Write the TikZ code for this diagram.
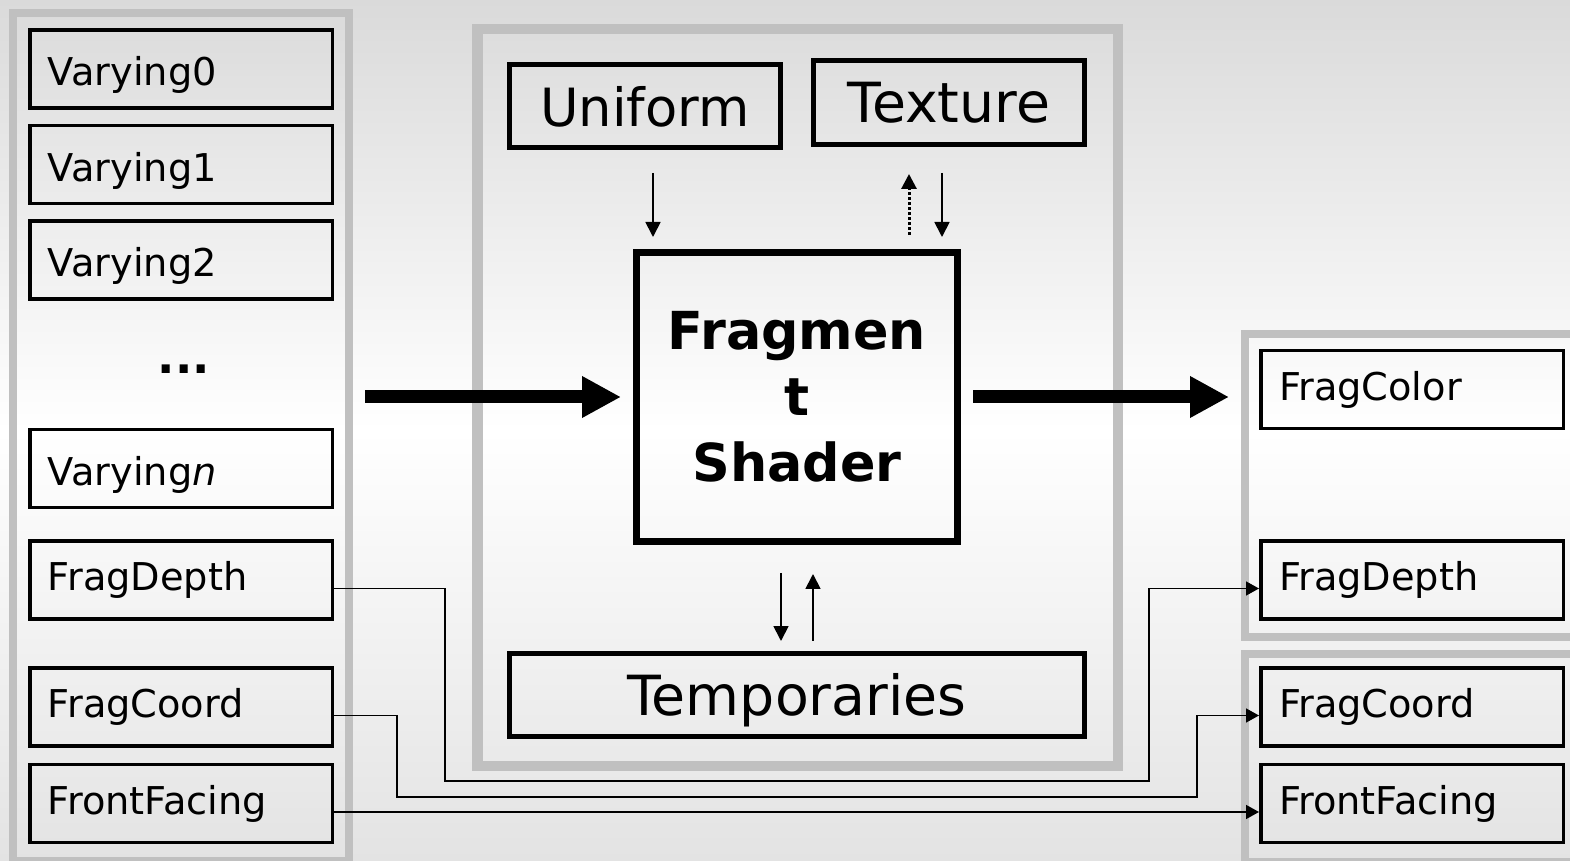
\documentclass[tikz,border=0pt]{standalone}
\usepackage{fontspec}
\setmainfont{DejaVu Sans}
\usetikzlibrary{positioning, calc, arrows.meta}

\newlength\pxu
\setlength\pxu{0.02cm}
\definecolor{bgtop}{HTML}{DADADA}
\definecolor{bgbot}{HTML}{E3E3E3}
\definecolor{framegray}{HTML}{C0C0C0}

\begin{document}
\begin{tikzpicture}[x=0.02cm, y=-0.02cm,
		panel/.style={draw=framegray, line width=8\pxu, inner sep=0pt},
		slot/.style={draw, line width=3.5\pxu, minimum width=302.5\pxu, minimum height=78\pxu, text width=266\pxu,
			inner xsep=18\pxu, inner ysep=0pt, align=left, font=\fontsize{21.8}{26}\selectfont},
		varslot/.style={slot, text height=36\pxu, text depth=2\pxu},
		unitbox/.style={draw, line width=5\pxu, minimum width=271\pxu, minimum height=83\pxu, inner sep=0pt,
			text height=40.5\pxu, text depth=0pt, font=\fontsize{30}{36}\selectfont},
		bigarrow/.style={line width=13\pxu, -{Triangle[length=0.78cm, width=0.78cm]}, shorten <=12\pxu, shorten >=12\pxu},
		feed/.style={line width=1.8\pxu, -{Triangle[length=0.3cm, width=0.3cm]}},
		wire/.style={line width=1.5\pxu, -{Triangle[length=0.26cm, width=0.28cm]}}]
		
		\useasboundingbox (0,0) rectangle (1570,861);
		\shade[top color=bgtop, bottom color=bgbot, middle color=white] (0,0) rectangle (1570,861);
		
		% frames
		\node[panel, minimum width=336\pxu, minimum height=848\pxu] (inpanel) at (181,437) {};
		\node[panel, line width=10.5\pxu, minimum width=640.5\pxu, minimum height=736.5\pxu] (shaderpanel) at (797.5,397.5) {};
		\node[panel, minimum width=355\pxu, minimum height=303\pxu] (colorpanel) at (1422.5,485.5) {};
		\node[panel, minimum width=355\pxu, minimum height=208\pxu] (coordpanel) at (1422.5,758) {};
		
		% inputs
		\node[varslot] (v0) at (181,69) {Varying0};
		\node[varslot] (v1) [below=14\pxu of v0] {Varying1};
		\node[varslot] (v2) [below=14\pxu of v1] {Varying2};
		\node[varslot] (vn) [below=127\pxu of v2] {Varying\textit{n}};
		\node[font=\bfseries\fontsize{26}{26}\selectfont, xshift=3\pxu, yshift=-5\pxu] (dots) at ($(v2.south)!0.5!(vn.north)$) {...};
		\node[slot] (idepth) [below=30\pxu of vn] {FragDepth};
		\node[slot] (icoord) [below=45.5\pxu of idepth] {FragCoord};
		\node[slot] (iface) [below=15\pxu of icoord] {FrontFacing};
		
		% shader stage
		\node[unitbox] (uniform) at (645,106) {Uniform};
		\node[unitbox, minimum height=84\pxu, font=\fontsize{31.5}{36}\selectfont] (texture) at (949,102.5) {Texture};
		\node[draw, line width=7\pxu, minimum width=321\pxu, minimum height=289\pxu, align=center,
			font=\bfseries\fontsize{29.8}{37.5}\selectfont] (frag) at (797,397) {Fragmen\\t\\Shader};
		\node[unitbox, minimum width=575\pxu, font=\fontsize{31.5}{36}\selectfont] (temps) at (797,695) {Temporaries};
		
		% outputs
		\node[slot] (ocolor) at (1412,389.5) {FragColor};
		\node[slot] (odepth) at (idepth -| 1412,0) {FragDepth};
		\node[slot] (ocoord) at (icoord -| 1412,0) {FragCoord};
		\node[slot] (oface) at (iface -| 1412,0) {FrontFacing};
		
		\draw[bigarrow] (inpanel.east |- frag.west) -- (frag.west);
		\draw[bigarrow] (frag.east) -- (colorpanel.west |- frag.east);
		
		\draw[feed, shorten <=23\pxu, shorten >=12\pxu] ($(uniform.south)+(8,0)$) -- ($(frag.north -| uniform.south)+(8,0)$);
		\draw[feed, shorten <=26\pxu, shorten >=12\pxu] ($(texture.south)+(-7,0)$) -- ($(frag.north -| texture.south)+(-7,0)$);
		\draw[feed, line width=3\pxu, dash pattern=on 3\pxu off 2\pxu, shorten <=14\pxu, shorten >=27\pxu]
			($(frag.north -| texture.south)+(-40,0)$) -- ($(texture.south)+(-40,0)$);
		\draw[feed, shorten <=28\pxu, shorten >=10\pxu] ($(frag.south)+(-16,0)$) -- ($(temps.north)+(-16,0)$);
		\draw[feed, shorten <=10\pxu, shorten >=29\pxu] ($(temps.north)+(16,0)$) -- ($(frag.south)+(16,0)$);
		
		\draw[wire] ([yshift=-8.5\pxu]idepth.east) -| (445,781) -- (1149,781) |- ([yshift=-8.5\pxu]odepth.west);
		\draw[wire] ([yshift=-8.5\pxu]icoord.east) -| (397,797) -- (1197,797) |- ([yshift=-8.5\pxu]ocoord.west);
		\draw[wire] ([yshift=-8.5\pxu]iface.east) -- ([yshift=-8.5\pxu]oface.west);
		
	\end{tikzpicture}
\end{document}
